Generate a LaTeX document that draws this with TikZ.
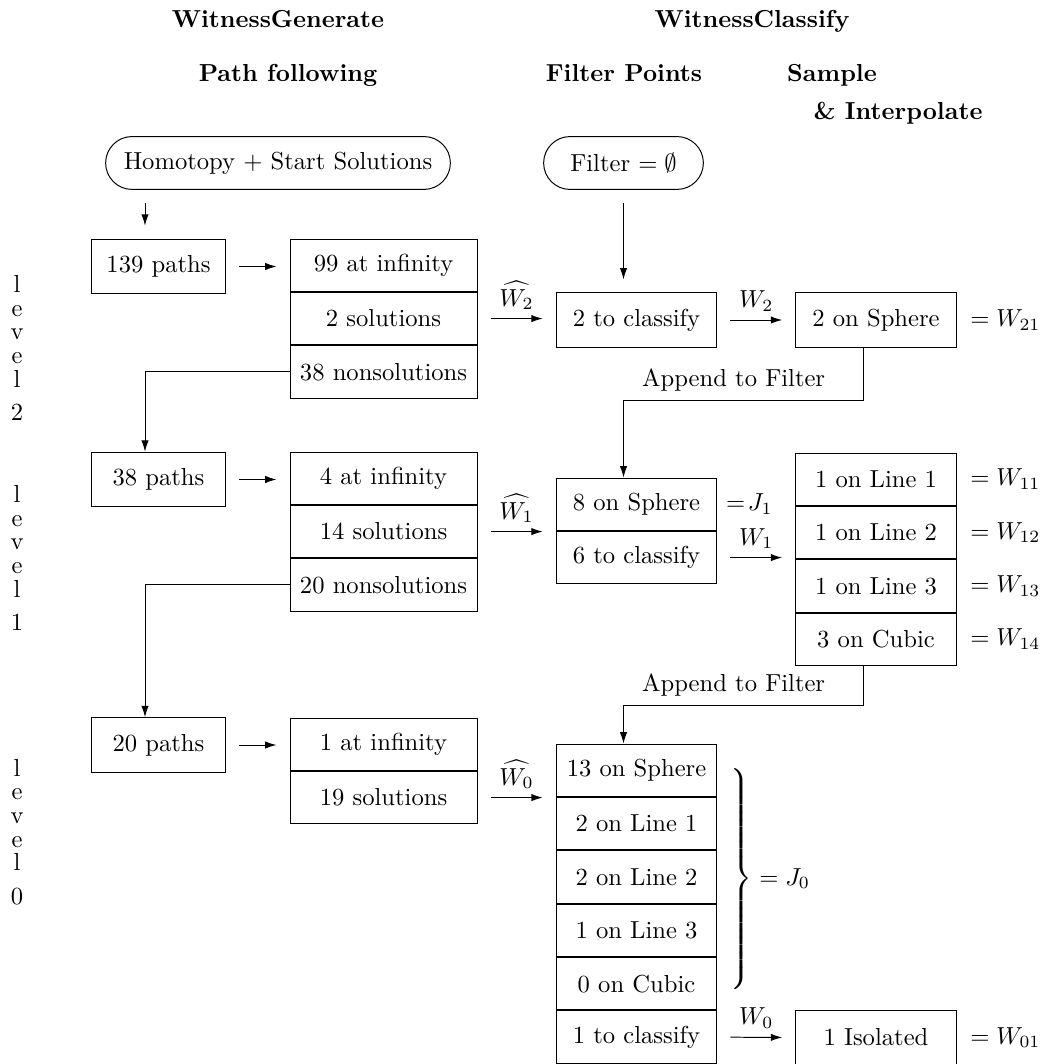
\documentclass[tikz,border=0pt]{standalone}
\usetikzlibrary{positioning,shapes.misc,arrows.meta}

\begin{document}
\begin{tikzpicture}[x=0.4065pt, y=-0.4065pt, >={Latex[length=4.6pt,width=3pt]},
    start/.style={rounded rectangle, draw, minimum height=21.5pt},
    pathbox/.style={rectangle, draw, minimum width=54.5pt, minimum height=22.2pt},
    genrow/.style={rectangle, draw, minimum width=76pt, minimum height=21.3pt},
    clsrow/.style={rectangle, draw, minimum width=65.3pt, minimum height=21.3pt},
    flow/.style={->, shorten <=5.3pt, shorten >=5.3pt},
    head/.style={font=\bfseries, anchor=base},
    levelname/.style={align=center, font={\fontsize{10}{9.6}\selectfont}}]

          \useasboundingbox (0,0) rectangle (1039,1064);

          % headings
          \node[head] (hgen)  at (278,28)  {WitnessGenerate};
          \node[head] (hcls)  at (752,28)  {WitnessClassify};
          \node[head] (hpath) at (288,82)  {Path following};
          \node[head] (hfilt) at (624,82)  {Filter Points};
          \node[head] (hsamp) at (832,82)  {Sample};
          \node[head] (hint)  at (898,120) {\& Interpolate};

          % levels
          \node[levelname] (lev2) at (17,348) {l\\e\\v\\e\\l\\[4pt]2};
          \node[levelname] (lev1) at (17,558) {l\\e\\v\\e\\l\\[4pt]1};
          \node[levelname] (lev0) at (17,832) {l\\e\\v\\e\\l\\[4pt]0};

          \node[start, minimum width=146.8pt] (hom)  at (278,163)   {Homotopy + Start Solutions};
          \node[start, minimum width=71.6pt]  (filt) at (623.5,163) {Filter $=\emptyset$};
          \coordinate (lane) at (145,0);
          \coordinate (ap2) at (863,400);
          \coordinate (ap1) at (863,705);

          % level 2
          \node[pathbox] (p139) at (158.5,266.5) {139 paths};
          \node[genrow] (g2a) at (383.5,265.2) {99 at infinity};
          \node[genrow, below=0pt of g2a] (g2b) {2 solutions};
          \node[genrow, below=0pt of g2b] (g2c) {38 nonsolutions};

          \node[clsrow, minimum height=22pt] (c2)   at (636.5,320) {2 to classify};
          \node[clsrow, minimum height=22pt] (sph2) at (876,320)   {2 on Sphere};
          \node[right=2pt of sph2] (w21) {$= W_{21}$};

          % level 1
          \node[pathbox] (p38) at (158.5,479.5) {38 paths};
          \node[genrow] (g1a) at (383.5,478.2) {4 at infinity};
          \node[genrow, below=0pt of g1a] (g1b) {14 solutions};
          \node[genrow, below=0pt of g1b] (g1c) {20 nonsolutions};

          \node[clsrow] (c1a) at (636.5,504.2) {8 on Sphere};
          \node[clsrow, below=0pt of c1a] (c1b) {6 to classify};
          \node[right=0pt of c1a] (j1) {$=\!J_1$};

          \node[clsrow] (r1a) at (876,479.2) {1 on Line 1};
          \node[clsrow, below=0pt of r1a] (r1b) {1 on Line 2};
          \node[clsrow, below=0pt of r1b] (r1c) {1 on Line 3};
          \node[clsrow, below=0pt of r1c] (r1d) {3 on Cubic};
          \node[right=2pt of r1a] (w11) {$= W_{11}$};
          \node[right=2pt of r1b] (w12) {$= W_{12}$};
          \node[right=2pt of r1c] (w13) {$= W_{13}$};
          \node[right=2pt of r1d] (w14) {$= W_{14}$};

          % level 0
          \node[pathbox] (p20) at (158.5,745) {20 paths};
          \node[genrow] (g0a) at (383.5,744.2) {1 at infinity};
          \node[genrow, below=0pt of g0a] (g0b) {19 solutions};

          \node[clsrow] (b0a) at (636.5,770.2) {13 on Sphere};
          \node[clsrow, below=0pt of b0a] (b0b) {2 on Line 1};
          \node[clsrow, below=0pt of b0b] (b0c) {2 on Line 2};
          \node[clsrow, below=0pt of b0c] (b0d) {1 on Line 3};
          \node[clsrow, below=0pt of b0d] (b0e) {0 on Cubic};
          \node[clsrow, below=0pt of b0e] (b0f) {1 to classify};
          \node[anchor=base west] (j0) at (719,885)
            {$\left.\vrule height 47.5pt depth 42.5pt width 0pt\right\} = J_0$};

          \node[clsrow, minimum height=22pt] (iso) at (876,1037.5) {1 Isolated};
          \node[right=2pt of iso] (w01) {$= W_{01}$};

          % connectors
          \draw[flow] (hom.south -| lane) -- (p139.north -| lane);
          \draw[flow] (filt.south) -- (c2.north -| filt);

          \draw[flow] (p139.east) -- (p139.east -| g2a.west);
          \draw[flow] (g2b.east) -- (g2b.east -| c2.west) node[midway, above] {$\widehat{W_2}$};
          \draw[flow] (c2.east) -- (sph2.west) node[midway, above] {$W_2$};
          \draw[->] (g2c.west) -| (p38.north -| lane);
          \draw[->] (sph2.south -| ap2) -- (ap2) -- node[above, pos=0.54] {Append to Filter} (filt |- ap2) -- (c1a.north -| filt);

          \draw[flow] (p38.east) -- (p38.east -| g1a.west);
          \draw[flow] (g1b.east) -- (g1b.east -| c1a.west) node[midway, above] {$\widehat{W_1}$};
          \draw[flow] (c1b.east) -- (c1b.east -| r1a.west) node[midway, above] {$W_1$};
          \draw[->] (g1c.west) -| (p20.north -| lane);
          \draw[->] (r1d.south -| ap1) -- (ap1) -- node[above, pos=0.54] {Append to Filter} (filt |- ap1) -- (b0a.north -| filt);

          \draw[flow] (p20.east) -- (p20.east -| g0a.west);
          \draw[flow] (g0b.east) -- (g0b.east -| b0a.west) node[midway, above] {$\widehat{W_0}$};
          \draw[flow] (b0f.east) -- (iso.west) node[midway, above] {$W_0$};
\end{tikzpicture}
\end{document}
